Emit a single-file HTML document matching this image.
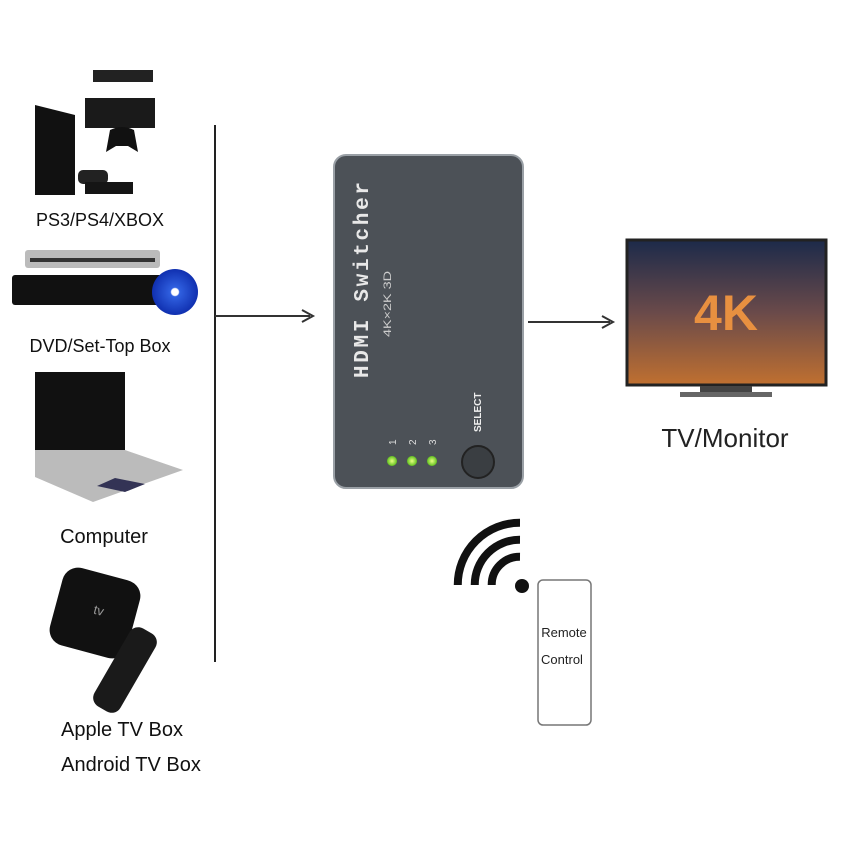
<!DOCTYPE html>
<html><head><style>body{margin:0;background:#fff}svg{display:block}</style></head><body>
<svg width="843" height="843" viewBox="0 0 843 843" xmlns="http://www.w3.org/2000/svg" font-family="Liberation Sans, sans-serif">
<defs>
<linearGradient id="tv" x1="0" y1="0" x2="0" y2="1"><stop offset="0" stop-color="#1c2a4a"/><stop offset="0.5" stop-color="#6a4a4a"/><stop offset="1" stop-color="#c07030"/></linearGradient>
<radialGradient id="led"><stop offset="0" stop-color="#e8ff80"/><stop offset="1" stop-color="#60c020"/></radialGradient>
<radialGradient id="disc"><stop offset="0.15" stop-color="#fff"/><stop offset="0.2" stop-color="#3060e0"/><stop offset="1" stop-color="#1030b0"/></radialGradient>
</defs>
<rect x="93" y="70" width="60" height="12" fill="#222"/>
<rect x="85" y="98" width="70" height="30" fill="#1a1a1a"/>
<path d="M110 130 q12-6 24 0 l4 22 -10-6 h-12 l-10 6z" fill="#111"/>
<path d="M35 105 l40 10 v80 h-40z" fill="#111"/>
<rect x="78" y="170" width="30" height="14" rx="5" fill="#222"/>
<rect x="85" y="182" width="48" height="12" fill="#151515"/>
<text x="100" y="226" font-size="18" text-anchor="middle" fill="#111">PS3/PS4/XBOX</text>
<rect x="25" y="250" width="135" height="18" rx="3" fill="#bbb"/>
<rect x="30" y="258" width="125" height="4" fill="#333"/>
<rect x="12" y="275" width="150" height="30" rx="3" fill="#111"/>
<circle cx="175" cy="292" r="23" fill="url(#disc)"/>
<text x="100" y="352" font-size="18" text-anchor="middle" fill="#111">DVD/Set-Top Box</text>
<path d="M35 372 h90 v78 h-90z" fill="#111"/>
<path d="M35 450 h90 l58 20 l-90 32 l-58-25z" fill="#bbb"/>
<path d="M115 478 l30 6 l-20 8 l-28-6z" fill="#335"/>
<text x="104" y="543" font-size="20" text-anchor="middle" fill="#111">Computer</text>
<rect x="55" y="573" width="80" height="80" rx="16" transform="rotate(15 95 613)" fill="#111"/>
<text x="98" y="614" font-size="13" fill="#999" text-anchor="middle" transform="rotate(15 95 613)">tv</text>
<rect x="110" y="625" width="30" height="90" rx="10" transform="rotate(30 125 670)" fill="#1a1a1a"/>
<text x="122" y="736" font-size="20" text-anchor="middle" fill="#111">Apple TV Box</text>
<text x="131" y="771" font-size="20" text-anchor="middle" fill="#111">Android TV Box</text>
<line x1="215" y1="125" x2="215" y2="662" stroke="#222" stroke-width="2"/>
<line x1="215" y1="316" x2="310" y2="316" stroke="#333" stroke-width="2"/>
<path d="M302 310 l11 6 -11 6" fill="none" stroke="#333" stroke-width="2"/>
<line x1="528" y1="322" x2="610" y2="322" stroke="#333" stroke-width="2"/>
<path d="M602 316 l11 6 -11 6" fill="none" stroke="#333" stroke-width="2"/>
<rect x="334" y="155" width="189" height="333" rx="12" fill="#4c5157" stroke="#9aa0a6" stroke-width="2"/>
<text transform="translate(368 378) rotate(-90)" font-size="21" font-weight="bold" fill="#e8e8e8" font-family="Liberation Mono, monospace" textLength="196" lengthAdjust="spacing">HDMI Switcher</text>
<text transform="translate(391 337) rotate(-90)" font-size="11" fill="#ccc" textLength="66" lengthAdjust="spacingAndGlyphs">4K×2K 3D</text>
<text transform="translate(396 445) rotate(-90)" font-size="10" fill="#ddd">1</text>
<text transform="translate(416 445) rotate(-90)" font-size="10" fill="#ddd">2</text>
<text transform="translate(436 445) rotate(-90)" font-size="10" fill="#ddd">3</text>
<circle cx="392" cy="461" r="5" fill="url(#led)"/>
<circle cx="412" cy="461" r="5" fill="url(#led)"/>
<circle cx="432" cy="461" r="5" fill="url(#led)"/>
<text transform="translate(481 432) rotate(-90)" font-size="10" font-weight="bold" fill="#eee">SELECT</text>
<circle cx="478" cy="462" r="16" fill="#3a3e42" stroke="#222" stroke-width="2"/>
<rect x="627" y="240" width="199" height="145" fill="url(#tv)" stroke="#222" stroke-width="3"/>
<text x="726" y="330" font-size="50" font-weight="bold" text-anchor="middle" fill="#e89040">4K</text>
<rect x="700" y="386" width="52" height="6" fill="#444"/>
<rect x="680" y="392" width="92" height="5" fill="#666"/>
<text x="725" y="447" font-size="26" text-anchor="middle" fill="#222">TV/Monitor</text>
<g fill="none" stroke="#111" stroke-width="8" transform="rotate(-45 520 585)">
<path d="M500 565 a28 28 0 0 1 40 0"/>
<path d="M488 553 a45 45 0 0 1 64 0"/>
<path d="M476 541 a62 62 0 0 1 88 0"/>
</g>
<circle cx="522" cy="586" r="7" fill="#111"/>
<rect x="538" y="580" width="53" height="145" rx="5" fill="#fff" stroke="#777" stroke-width="1.5"/>
<text x="564" y="637" font-size="13" text-anchor="middle" fill="#222">Remote</text>
<text x="562" y="664" font-size="13" text-anchor="middle" fill="#222">Control</text>
</svg>
</body></html>
